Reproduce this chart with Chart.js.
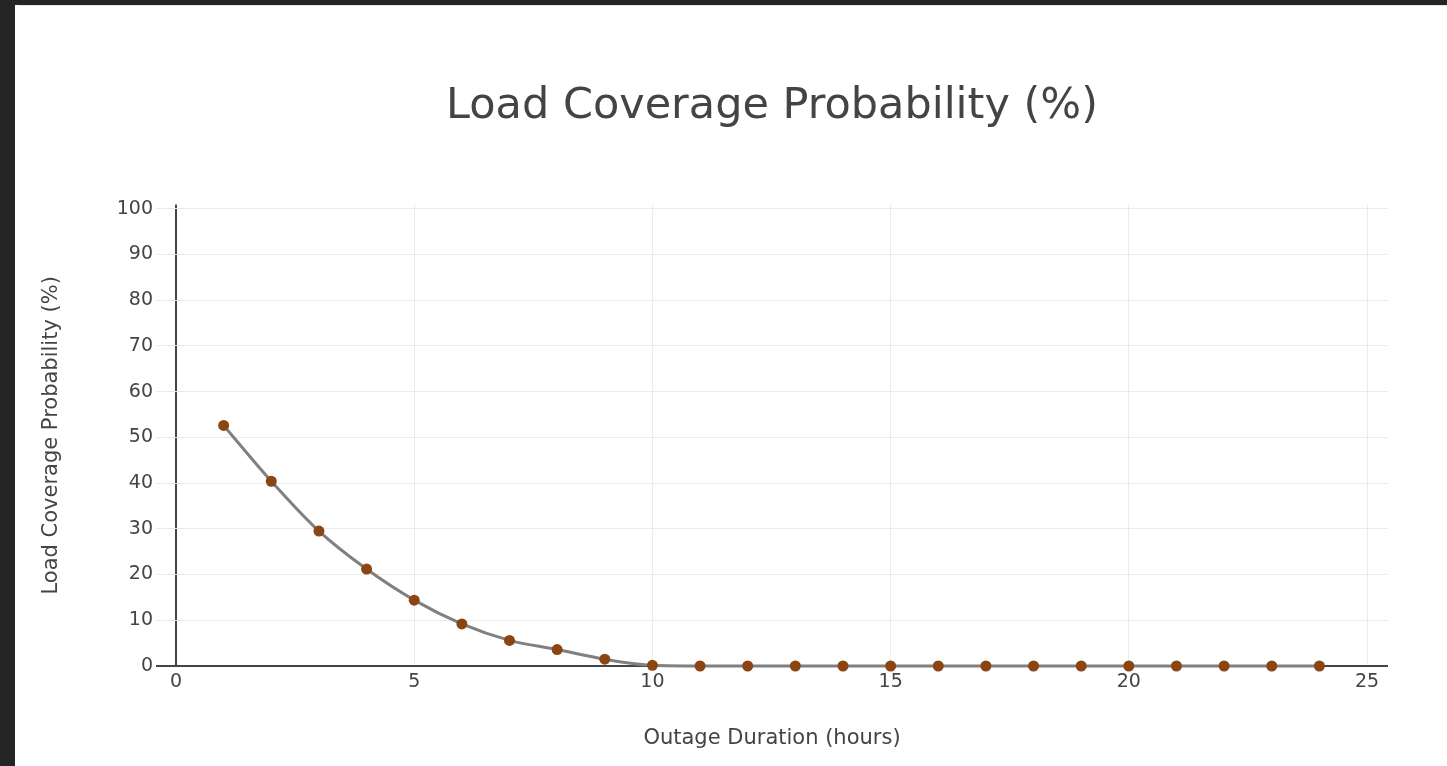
<!DOCTYPE html>
<html>
<head>
<meta charset="utf-8">
<script src="https://cdn.jsdelivr.net/npm/chart.js@4"></script>
<style>
  html, body { margin: 0; padding: 0; background: #fff; overflow: hidden; width: 1447px; height: 766px; }
  #wrap { position: absolute; left: 0; top: 0; width: 1544px; height: 766px; }
  #topbar { position: absolute; left: 0; top: 0; width: 1447px; height: 5px; background: #252525; z-index: 2; }
  #topline { position: absolute; left: 19px; top: 5px; width: 1428px; height: 1px; background: #e6e6e6; z-index: 2; }
  #leftbar { position: absolute; left: 0; top: 0; width: 15px; height: 766px; background: #252525; z-index: 2; }
</style>
</head>
<body>
<div id="topbar"></div>
<div id="topline"></div>
<div id="leftbar"></div>
<div id="wrap"><canvas id="c" width="1544" height="766"></canvas></div>
<script>
const titleText = 'Load Coverage Probability (%)';
const xTitle = 'Outage Duration (hours)';
const yTitle = 'Load Coverage Probability (%)';
const hours = [1,2,3,4,5,6,7,8,9,10,11,12,13,14,15,16,17,18,19,20,21,22,23,24];
const coverage = [52.6,40.4,29.5,21.2,14.4,9.2,5.6,3.6,1.5,0.15,0,0,0,0,0,0,0,0,0,0,0,0,0,0];
const xTicks = [0,5,10,15,20,25];
const yTicks = [0,10,20,30,40,50,60,70,80,90,100];

const FONT = "'DejaVu Sans', Verdana, sans-serif";
const points = hours.map((h, i) => ({ x: h, y: coverage[i] }));

new Chart(document.getElementById('c'), {
  type: 'line',
  data: {
    datasets: [{
      data: points,
      borderColor: '#808080',
      borderWidth: 3,
      cubicInterpolationMode: 'monotone',
      pointRadius: 5.5,
      pointHoverRadius: 5.5,
      pointBackgroundColor: '#8B4513',
      pointBorderColor: '#8B4513',
      pointBorderWidth: 0,
      clip: false,
      fill: false,
      xAxisID: 'x',
      yAxisID: 'y'
    }]
  },
  options: {
    responsive: false,
    animation: false,
    events: [],
    layout: { padding: { left: 0, right: 0, top: 0, bottom: 0 } },
    plugins: {
      legend: { display: false },
      tooltip: { enabled: false },
      title: {
        display: true,
        text: titleText,
        color: '#444',
        font: { family: FONT, size: 43, weight: 'normal' },
        padding: { top: 81, bottom: 72 }
      }
    },
    scales: {
      x: {
        type: 'linear',
        min: -0.42,
        max: 25.44,
        afterFit: s => { s.height = 100; },
        afterBuildTicks: s => { s.ticks = xTicks.map(v => ({ value: v })); },
        border: { display: false },
        grid: {
          drawTicks: false,
          color: ctx => (ctx.tick && ctx.tick.value === 0) ? '#444' : '#ebebeb',
          lineWidth: ctx => (ctx.tick && ctx.tick.value === 0) ? 2 : 1
        },
        ticks: {
          color: '#444',
          padding: 5,
          font: { family: FONT, size: 19 },
          maxRotation: 0,
          autoSkip: false
        },
        title: {
          display: true,
          text: xTitle,
          color: '#444',
          font: { family: FONT, size: 21 },
          padding: { top: 0, bottom: 15 }
        }
      },
      y: {
        type: 'linear',
        position: 'left',
        min: 0,
        max: 100.9,
        afterFit: s => { s.width = 156; },
        afterBuildTicks: s => { s.ticks = yTicks.map(v => ({ value: v })); },
        border: { display: false },
        grid: {
          drawTicks: false,
          color: ctx => (ctx.tick && ctx.tick.value === 0) ? '#444' : '#ebebeb',
          lineWidth: ctx => (ctx.tick && ctx.tick.value === 0) ? 2 : 1
        },
        ticks: {
          color: '#444',
          padding: 3,
          font: { family: FONT, size: 19 }
        },
        title: {
          display: true,
          text: yTitle,
          color: '#444',
          font: { family: FONT, size: 21 },
          padding: { top: 39, bottom: 0 }
        }
      },
      yRight: {
        type: 'linear',
        position: 'right',
        min: 0,
        max: 100.9,
        afterFit: s => { s.width = 156; },
        border: { display: false },
        grid: { display: false, drawTicks: false },
        ticks: { display: false }
      }
    }
  }
});
</script>
</body>
</html>
